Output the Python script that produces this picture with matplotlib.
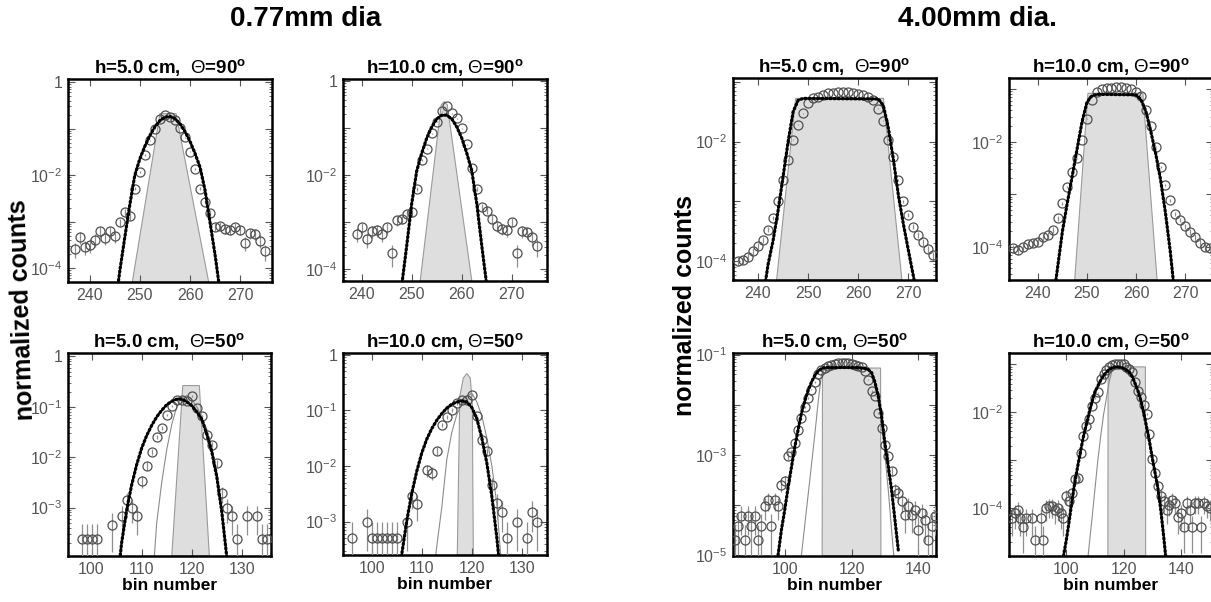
import numpy as np
import matplotlib
matplotlib.use("Agg")
import matplotlib.pyplot as plt
from matplotlib.ticker import FixedLocator, FixedFormatter, LogLocator, NullFormatter

plt.rcParams['font.family'] = ['Liberation Sans', 'DejaVu Sans']
plt.rcParams['mathtext.fontset'] = 'custom'
plt.rcParams['mathtext.rm'] = 'Liberation Sans'
plt.rcParams['mathtext.it'] = 'Liberation Sans:italic'
plt.rcParams['mathtext.bf'] = 'Liberation Sans:bold'

# ---------------- data (values stored as log10 of normalized counts) ----------------
# 0.77 mm, h=5 cm, theta=90
A_x = list(range(237, 276))
A_log = [-3.59, -3.34, -3.54, -3.50, -3.39, -3.21, -3.36, -3.21, -3.32, -3.02, -2.80, -2.89, -2.29,
         -1.93, -1.57, -1.25, -1.00, -0.79, -0.71, -0.75, -0.81, -0.98, -1.19, -1.50, -1.86, -2.29,
         -2.57, -2.82, -3.11, -3.09, -3.16, -3.18, -3.11, -3.18, -3.46, -3.25, -3.26, -3.41, -3.64]
A_fit_x = list(range(245, 267))
A_fit_log = [-4.89, -4.07, -3.34, -2.64, -2.00, -1.65, -1.38, -1.15, -0.96, -0.83, -0.755, -0.74,
             -0.79, -0.90, -1.07, -1.28, -1.54, -1.84, -2.34, -3.04, -3.74, -4.54]
A_shade_x = [248.5, 254.0, 257.2, 263.7]
A_shade_log = [-0.68, -0.68]

# 0.77 mm, h=10 cm, theta=90
B_x = list(range(239, 276))
B_log = [-3.25, -3.11, -3.36, -3.18, -3.16, -3.25, -3.11, -3.66, -2.96, -2.93, -2.82, -2.79, -2.29,
         -1.68, -1.43, -1.11, -0.86, -0.64, -0.52, -0.68, -0.79, -1.00, -1.34, -1.84, -2.29, -2.68,
         -2.75, -2.93, -3.07, -3.14, -3.16, -2.99, -3.66, -3.18, -3.21, -3.32, -3.50]
B_fit_x = list(range(247, 267))
B_fit_log = [-5.26, -4.36, -3.51, -2.61, -1.91, -1.53, -1.21, -0.97, -0.80, -0.72,
             -0.72, -0.80, -0.97, -1.21, -1.53, -1.91, -2.61, -3.51, -4.36, -5.26]
B_shade_x = [251.7, 255.9, 256.5, 257.1, 262.0]
B_shade_log = [-0.50, -0.43, -0.50]

# 0.77 mm, h=5 cm, theta=50
C_x = [98, 99, 100, 101, 104, 106, 107, 108, 109, 110, 111, 112, 113, 114, 115, 116, 117, 118, 119,
       120, 121, 122, 123, 124, 125, 126, 127, 128, 129, 131, 133, 134, 135]
C_log = [-3.63, -3.63, -3.63, -3.63, -3.34, -3.17, -2.85, -3.01, -3.17, -2.48, -2.17, -1.90, -1.60,
         -1.42, -1.16, -0.99, -0.86, -0.86, -0.89, -0.79, -1.03, -1.19, -1.57, -1.75, -2.12, -2.72,
         -3.01, -3.17, -3.63, -3.17, -3.17, -3.63, -3.63]
C_fit_x = [105, 106, 107, 108, 109, 110, 111, 112, 113, 114, 115, 116, 117, 118, 119, 120, 121, 122,
           123, 124, 125, 126, 127]
C_fit_log = [-4.6, -3.7, -3.05, -2.55, -2.15, -1.82, -1.57, -1.37, -1.20, -1.07, -0.96, -0.89, -0.85,
             -0.85, -0.90, -0.98, -1.10, -1.25, -1.55, -1.90, -2.40, -3.10, -4.00]
C_gray_x = [112.5, 113, 114, 115, 116, 117, 118, 119, 120, 121, 122, 123, 124, 125, 126, 127]
C_gray_log = [-4.0, -3.3, -2.5, -1.85, -1.35, -1.0, -0.82, -0.78, -0.85, -1.0, -1.2, -1.45, -1.8,
              -2.3, -3.0, -4.0]
C_shade_x = [116.0, 118.2, 121.5, 123.5]
C_shade_log = [-0.58, -0.58]

# 0.77 mm, h=10 cm, theta=50
D_x = [96, 99, 100, 101, 102, 103, 104, 105, 107, 108, 109, 111, 112, 113, 114, 115, 116, 117, 118,
       119, 120, 121, 122, 123, 124, 125, 126, 127, 129, 131, 132, 133]
D_log = [-3.30, -3.0, -3.30, -3.30, -3.30, -3.30, -3.30, -3.30, -3.0, -2.54, -2.69, -2.08, -2.12,
         -1.73, -1.26, -1.12, -0.99, -0.87, -0.81, -0.81, -0.72, -1.11, -1.53, -1.74, -2.34, -2.67,
         -2.82, -3.30, -3.0, -3.30, -2.82, -3.0]
D_fit_x = list(range(105, 127))
D_fit_log = [-4.3, -3.6, -3.0, -2.5, -2.1, -1.77, -1.52, -1.33, -1.18, -1.06, -0.96, -0.89, -0.85,
             -0.83, -0.85, -0.95, -1.15, -1.50, -1.95, -2.55, -3.3, -4.2]
D_gray_x = [112.8, 113, 114, 115, 116, 117, 118, 119, 120, 121, 122, 123, 124, 125, 126]
D_gray_log = [-3.6, -3.45, -2.75, -1.89, -1.4, -1.08, -0.88, -0.75, -0.69, -0.85, -1.1, -1.5, -2.0,
              -2.7, -3.9]
D_shade_x = [117.1, 117.6, 118.3, 119.0, 119.7, 120.1, 120.3]
D_shade_log = [-0.75, -0.42, -0.34, -0.42, -0.9]

# 4.00 mm, h=5 cm, theta=90
E_x = list(range(236, 276))
E_log = [-4.0, -3.97, -3.92, -3.83, -3.75, -3.64, -3.47, -3.28, -3.0, -2.64, -2.31, -1.97, -1.72,
         -1.53, -1.36, -1.28, -1.25, -1.22, -1.19, -1.19, -1.17, -1.17, -1.17, -1.19, -1.21, -1.22,
         -1.25, -1.31, -1.45, -1.65, -1.97, -2.25, -2.64, -3.0, -3.22, -3.42, -3.56, -3.68, -3.8, -3.9]
E_fit_x = [241, 242, 243, 244, 245, 246, 247, 248, 249, 264, 265, 266, 267, 268, 269, 270, 271, 272]
E_fit_log = [-4.6, -4.05, -3.65, -3.15, -2.58, -2.0, -1.5, -1.31, -1.28, -1.29, -1.4, -1.78, -2.3,
             -2.9, -3.38, -3.82, -4.25, -4.7]
E_shade_x = [243.7, 247.5, 265.0, 268.7]
E_shade_log = [-1.28, -1.28]

# 4.00 mm, h=10 cm, theta=90
F_x = list(range(235, 276))
F_log = [-4.03, -4.06, -4.0, -3.95, -3.92, -3.90, -3.82, -3.78, -3.68, -3.46, -3.17, -2.86, -2.57,
         -2.32, -1.97, -1.56, -1.21, -1.05, -1.0, -0.98, -0.98, -0.97, -0.97, -0.98, -1.0, -1.05,
         -1.14, -1.40, -1.71, -2.10, -2.48, -2.83, -3.11, -3.37, -3.49, -3.61, -3.71, -3.82, -3.92,
         -4.0, -4.03]
F_fit_x = [243, 244, 245, 246, 247, 248, 249, 250, 251, 252, 260, 261, 262, 263, 264, 265, 266, 267, 268]
F_fit_log = [-5.1, -4.4, -3.7, -3.16, -2.65, -2.13, -1.62, -1.25, -1.13, -1.1, -1.11, -1.2, -1.42,
             -1.8, -2.22, -2.72, -3.35, -4.1, -5.0]
F_shade_x = [247.5, 250.2, 261.4, 264.3]
F_shade_log = [-1.08, -1.08]

# 4.00 mm, h=5 cm, theta=50
G_x = list(range(85, 146))
G_log = [-4.7, -4.43, -4.23, -4.7, -4.23, -4.43, -4.23, -4.7, -4.43, -4.03,
         -3.9, -4.43, -3.9, -4.03, -3.6, -3.53, -3.03, -2.95, -2.77, -2.5,
         -2.27, -2.05, -1.87, -1.7, -1.55, -1.38, -1.3, -1.26, -1.23, -1.2,
         -1.18, -1.17, -1.16, -1.16, -1.17, -1.18, -1.2, -1.22, -1.25, -1.33,
         -1.5, -1.73, -1.82, -2.17, -2.47, -2.8, -3.03, -3.33, -3.7, -3.77,
         -3.93, -4.2, -4.03, -4.2, -4.1, -4.5, -4.17, -4.3, -4.7, -4.43, -4.23]
G_fit_x = [98, 99, 100, 101, 102, 103, 104, 105, 106, 107, 108, 109, 110, 111, 112,
           122, 123, 124, 125, 126, 127, 128, 129, 130, 131, 132, 133, 134]
G_fit_log = [-5.0, -4.5, -4.1, -3.65, -3.25, -2.85, -2.5, -2.17, -1.93, -1.72, -1.55, -1.42, -1.33,
             -1.28, -1.26, -1.26, -1.27, -1.28, -1.3, -1.36, -1.55, -1.83, -2.23, -2.77, -3.23, -3.7,
             -4.3, -4.9]
G_gray_x = [105, 106, 107, 108, 109, 110, 111, 112, 124, 125, 126, 127, 128, 129, 130, 131, 132, 133]
G_gray_log = [-5.0, -4.4, -3.8, -3.2, -2.6, -1.95, -1.4, -1.28, -1.27, -1.3, -1.4, -1.6, -1.9, -2.4,
              -3.0, -3.7, -4.5, -5.3]
G_shade_x = [111.2, 111.3, 128.7, 128.8]
G_shade_log = [-1.27, -1.27]

# 4.00 mm, h=10 cm, theta=50
H_x = [81, 82, 83, 84, 85, 86, 88, 89] + list(range(91, 151))
H_log = [-4.21, -4.11, -4.04, -4.21, -4.39, -4.21, -4.21, -4.67, -4.21, -4.67,
         -4.0, -3.96, -3.96, -4.04, -4.0, -4.11, -4.21, -3.75, -3.86, -3.68,
         -3.4, -3.37, -2.84, -2.49, -2.28, -2.14, -1.86, -1.7, -1.58, -1.3,
         -1.2, -1.12, -1.05, -1.02, -0.99, -0.98, -0.98, -1.0, -1.05, -1.1,
         -1.16, -1.37, -1.55, -1.68, -1.85, -2.04, -2.46, -2.98, -3.26, -3.54,
         -3.75, -3.86, -4.04, -3.93, -3.82, -3.89, -4.18, -4.11, -4.39, -3.89,
         -4.04, -4.39, -3.89, -3.89, -4.39, -3.89, -3.96, -4.0]
H_fit_x = list(range(99, 136))
H_fit_log = [-5.0, -4.67, -4.27, -3.85, -3.45, -3.12, -2.8, -2.5, -2.25, -2.0, -1.77, -1.58, -1.45,
             -1.33, -1.23, -1.16, -1.1, -1.07, -1.05, -1.05, -1.06, -1.08, -1.12, -1.16, -1.25, -1.4,
             -1.55, -1.75, -2.0, -2.3, -2.6, -2.95, -3.27, -3.6, -4.05, -4.6, -5.2]
H_gray_x = [107.6, 109, 110, 111, 112, 113, 114, 115, 116, 117, 118, 119, 120, 121, 122, 123, 124,
            125, 126, 127, 128, 129, 130, 131, 132, 133, 134, 135]
H_gray_log = [-5.0, -4.2, -3.6, -3.0, -2.5, -2.05, -1.7, -1.35, -1.12, -1.05, -1.04, -1.05, -1.07,
              -1.1, -1.15, -1.22, -1.35, -1.52, -1.72, -1.95, -2.25, -2.55, -2.9, -3.22, -3.6, -4.0,
              -4.5, -5.1]
H_shade_x = [114.5, 114.6, 127.6, 127.7]
H_shade_log = [-1.05, -1.05]

# value of a single count in each panel (for Poisson error bars)
units = {'A': 3.5e-5, 'B': 5.5e-5, 'C': 2.3e-4, 'D': 5e-4, 'E': 3e-6, 'F': 3e-6, 'G': 2e-5, 'H': 2.1e-5}

titles = {
    'A': "h=5.0 cm,  $\\Theta$=90$^{\\mathbf{o}}$",
    'B': "h=10.0 cm, $\\Theta$=90$^{\\mathbf{o}}$",
    'C': "h=5.0 cm,  $\\Theta$=50$^{\\mathbf{o}}$",
    'D': "h=10.0 cm, $\\Theta$=50$^{\\mathbf{o}}$",
    'E': "h=5.0 cm,  $\\Theta$=90$^{\\mathbf{o}}$",
    'F': "h=10.0 cm, $\\Theta$=90$^{\\mathbf{o}}$",
    'G': "h=5.0 cm, $\\Theta$=50$^{\\mathbf{o}}$",
    'H': "h=10.0 cm, $\\Theta$=50$^{\\mathbf{o}}$",
}

# ---------------- layout ----------------
W, Hpx = 1211, 602
fig = plt.figure(figsize=(W / 100, Hpx / 100), dpi=100)


def rect(l, r, t, b):
    return [l / W, 1 - b / Hpx, (r - l) / W, (b - t) / Hpx]


def ylab(k):
    return '1' if k == 0 else r'$10^{%d}$' % k


def panel(key, box, x, lg, fx, flg, sx, slg, gx, glg, xlim, ylg, xticks, ymaj, ylabeled, xlabel=False):
    ax = fig.add_axes(rect(*box))
    ax.set_yscale('log')
    ylo, yhi = 10.0 ** ylg[0], 10.0 ** ylg[1]
    # shaded distribution
    sy = [ylo] + [10.0 ** v for v in slg] + [ylo]
    ax.fill(sx, sy, facecolor='#dedede', edgecolor='#9a9a9a', lw=0.8, zorder=1)
    # thin gray model
    if gx is not None:
        ax.plot(gx, 10.0 ** np.asarray(glg), color='#8c8c8c', lw=0.8, zorder=2)
    v = 10.0 ** np.asarray(lg)
    err = np.sqrt(v * units[key])
    lo = np.maximum(v - err, ylo * 1e-3)
    ax.errorbar(x, v, yerr=[v - lo, err], fmt='none', ecolor='#8f8f8f', elinewidth=0.9, zorder=3)
    ax.plot(x, v, 'o', ms=6.5, mfc='none', mec='#505050', mew=0.9, zorder=4)
    ax.plot(fx, 10.0 ** np.asarray(flg), color='black', lw=2.3, ls=(0, (0.45, 0.85)),
            dash_capstyle='round', zorder=5)
    ax.set_xlim(*xlim)
    ax.set_ylim(ylo, yhi)
    ax.set_xticks(xticks)
    ax.set_xticklabels([str(t) for t in xticks])
    ax.yaxis.set_major_locator(FixedLocator([10.0 ** k for k in ymaj]))
    ax.yaxis.set_major_formatter(FixedFormatter([ylab(k) if k in ylabeled else '' for k in ymaj]))
    ax.yaxis.set_minor_locator(LogLocator(base=10, subs=np.arange(2, 10)))
    ax.yaxis.set_minor_formatter(NullFormatter())
    ax.tick_params(which='both', direction='in', top=True, right=True, colors='#555555',
                   labelcolor='#555555', labelsize=11.5)
    ax.tick_params(which='major', length=5, width=0.8)
    ax.tick_params(which='minor', length=2.5, width=0.6)
    ax.tick_params(axis='x', pad=4)
    ax.tick_params(axis='y', pad=4)
    for s in ax.spines.values():
        s.set_linewidth(1.8)
        s.set_color('black')
    ax.set_title(titles[key], fontsize=13.5, fontweight='bold', pad=4)
    if xlabel:
        ax.set_xlabel('bin number', fontsize=12.5, fontweight='bold', labelpad=1)
    return ax


panel('A', (68, 272, 79, 282), A_x, A_log, A_fit_x, A_fit_log, A_shade_x, A_shade_log, None, None,
      (235.7, 276.3), (-4.3, 0.065), [240, 250, 260, 270], [0, -1, -2, -3, -4], [0, -2, -4])
panel('B', (343, 547, 79, 281), B_x, B_log, B_fit_x, B_fit_log, B_shade_x, B_shade_log, None, None,
      (236.3, 277.0), (-4.25, 0.05), [240, 250, 260, 270], [0, -1, -2, -3, -4], [0, -2, -4])
panel('C', (68, 271, 353, 556), C_x, C_log, C_fit_x, C_fit_log, C_shade_x, C_shade_log, C_gray_x,
      C_gray_log, (95.3, 135.8), (-3.96, 0.066), [100, 110, 120, 130], [0, -1, -2, -3],
      [0, -1, -2, -3], xlabel=True)
panel('D', (343, 547, 353, 555), D_x, D_log, D_fit_x, D_fit_log, D_shade_x, D_shade_log, D_gray_x,
      D_gray_log, (94.3, 135.0), (-3.6, 0.03), [100, 110, 120, 130], [0, -1, -2, -3],
      [0, -1, -2, -3], xlabel=True)
panel('E', (733, 936, 78, 280), E_x, E_log, E_fit_x, E_fit_log, E_shade_x, E_shade_log, None, None,
      (235.0, 275.5), (-4.31, -0.94), [240, 250, 260, 270], [-1, -2, -3, -4], [-2, -4])
panel('F', (1009, 1213, 78, 280), F_x, F_log, F_fit_x, F_fit_log, F_shade_x, F_shade_log, None, None,
      (234.1, 275.7), (-4.63, -0.79), [240, 250, 260, 270], [-1, -2, -3, -4], [-2, -4])
panel('G', (733, 936, 353, 556), G_x, G_log, G_fit_x, G_fit_log, G_shade_x, G_shade_log, G_gray_x,
      G_gray_log, (84.5, 145.3), (-5.02, -0.97), [100, 120, 140], [-1, -2, -3, -4, -5],
      [-1, -3, -5], xlabel=True)
panel('H', (1009, 1213, 353, 556), H_x, H_log, H_fit_x, H_fit_log, H_shade_x, H_shade_log, H_gray_x,
      H_gray_log, (80.0, 151.2), (-5.0, -0.76), [100, 120, 140], [-1, -2, -3, -4, -5],
      [-2, -4], xlabel=True)

# group labels
fig.text(306 / W, 1 - 19 / Hpx, '0.77mm dia', ha='center', va='center', fontsize=20, fontweight='bold')
fig.text(977 / W, 1 - 19 / Hpx, '4.00mm dia.', ha='center', va='center', fontsize=20, fontweight='bold')
fig.text(22 / W, 1 - 310 / Hpx, 'normalized counts', rotation=92, ha='center', va='center',
         fontsize=18, fontweight='bold', rotation_mode='anchor')
fig.text(685 / W, 1 - 306 / Hpx, 'normalized counts', rotation=90, ha='center', va='center',
         fontsize=18, fontweight='bold')

fig.savefig('out.png', dpi=100)
